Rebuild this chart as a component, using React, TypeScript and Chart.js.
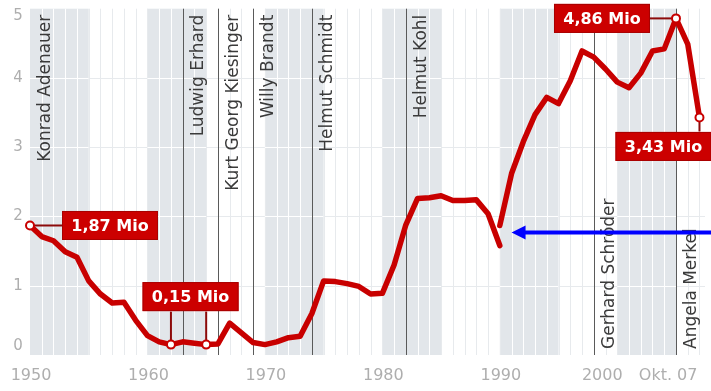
import { useEffect, useRef } from "react";
import { Chart, registerables } from "chart.js";

Chart.register(...registerables);

// Arbeitslose in Deutschland (Mio), Jahresdurchschnitte
const westYears = [
  1950, 1951, 1952, 1953, 1954, 1955, 1956, 1957, 1958, 1959,
  1960, 1961, 1962, 1963, 1964, 1965, 1966, 1967, 1968, 1969,
  1970, 1971, 1972, 1973, 1974, 1975, 1976, 1977, 1978, 1979,
  1980, 1981, 1982, 1983, 1984, 1985, 1986, 1987, 1988, 1989, 1990,
];
const westValues = [
  1.87, 1.71, 1.65, 1.49, 1.41, 1.07, 0.88, 0.75, 0.76, 0.5,
  0.28, 0.19, 0.15, 0.19, 0.17, 0.15, 0.16, 0.46, 0.32, 0.18,
  0.15, 0.19, 0.25, 0.27, 0.6, 1.07, 1.06, 1.03, 0.99, 0.88,
  0.89, 1.3, 1.88, 2.26, 2.27, 2.3, 2.23, 2.23, 2.24, 2.04, 1.58,
];
const unifiedYears = [
  1990, 1991, 1992, 1993, 1994, 1995, 1996, 1997, 1998, 1999,
  2000, 2001, 2002, 2003, 2004, 2005, 2006, 2007,
];
const unifiedValues = [
  1.87, 2.62, 3.08, 3.47, 3.72, 3.63, 3.96, 4.39, 4.3, 4.13,
  3.94, 3.86, 4.07, 4.39, 4.42, 4.86, 4.49, 3.43,
];

// Marked points (indices into the series above)
const westMarkers = [0, 12, 15];
const unifiedMarkers = [15, 17];

// Kanzler and the year their term starts
const chancellors = [
  "Konrad Adenauer", "Ludwig Erhard", "Kurt Georg Kiesinger", "Willy Brandt",
  "Helmut Schmidt", "Helmut Kohl", "Gerhard Schröder", "Angela Merkel",
];
const chancellorStart = [1950, 1963, 1966, 1969, 1974, 1982, 1998, 2005];
const chancellorLabelBottom = [false, false, false, false, false, false, true, true];

// Axis ticks
const xTickValues = [1950, 1960, 1970, 1980, 1990, 2000, 2007];
const xTickLabels = ["1950", "1960", "1970", "1980", "1990", "2000", "Okt. 07"];
const yTickValues = [0, 1, 2, 3, 4, 5];

// Callout labels
const calloutTexts = ["1,87 Mio", "0,15 Mio", "4,86 Mio", "3,43 Mio"];

// Hinweis-Pfeil auf den Bruch 1990
const arrowYear = 1991;
const arrowValue = 1.77;

const RED = "#c80000";
const BOX_RED = "#cc0000";
const CONNECTOR = "#8c0a0a";
const BAND = "#e2e6ea";
const GRID_ON_WHITE = "#e7eaed";
const FONT = "'DejaVu Sans', Verdana, sans-serif";

const inBand = (yr: number) => Math.floor((yr - 1950) / 5) % 2 === 0;

const decorations = {
  id: "decorations",
  beforeDraw(chart: any) {
    const { ctx, chartArea: a, scales } = chart;
    const x = scales.x;
    const y = scales.y;
    ctx.save();
    ctx.fillStyle = "#fff";
    ctx.fillRect(0, 0, chart.width, chart.height);

    // 5-year bands
    const edges: number[] = [];
    for (let s = 1950; s < x.max; s += 5) edges.push(s);
    edges.push(x.max);
    for (let i = 0; i < edges.length - 1; i++) {
      if (!inBand(edges[i])) continue;
      const l = x.getPixelForValue(edges[i]);
      const r = x.getPixelForValue(edges[i + 1]);
      ctx.fillStyle = BAND;
      ctx.fillRect(l, a.top, r - l, a.bottom - a.top);
    }

    // yearly vertical lines
    ctx.lineWidth = 1;
    for (let yr = 1951; yr < x.max; yr++) {
      const px = Math.round(x.getPixelForValue(yr)) + 0.5;
      ctx.strokeStyle = yr % 5 !== 0 && inBand(yr) ? "#ffffff" : GRID_ON_WHITE;
      ctx.beginPath();
      ctx.moveTo(px, a.top);
      ctx.lineTo(px, a.bottom);
      ctx.stroke();
    }

    // horizontal lines
    for (const v of [1, 2, 3, 4]) {
      const py = Math.round(y.getPixelForValue(v)) + 0.5;
      for (let i = 0; i < edges.length - 1; i++) {
        ctx.strokeStyle = inBand(edges[i]) ? "#ffffff" : GRID_ON_WHITE;
        ctx.beginPath();
        ctx.moveTo(x.getPixelForValue(edges[i]), py);
        ctx.lineTo(x.getPixelForValue(edges[i + 1]), py);
        ctx.stroke();
      }
    }

    // chancellor lines and names
    ctx.font = `17px ${FONT}`;
    ctx.fillStyle = "#3a3a3a";
    chancellors.forEach((name, i) => {
      const px = Math.round(x.getPixelForValue(chancellorStart[i])) + 0.5;
      if (chancellorStart[i] > x.min) {
        ctx.strokeStyle = "#5a5a5a";
        ctx.beginPath();
        ctx.moveTo(px, a.top);
        ctx.lineTo(px, a.bottom);
        ctx.stroke();
      }
      ctx.save();
      if (chancellorLabelBottom[i]) {
        ctx.translate(px + 19.5, a.bottom - 6);
        ctx.rotate(-Math.PI / 2);
        ctx.textAlign = "left";
      } else {
        ctx.translate(px + 19.5, a.top + 6);
        ctx.rotate(-Math.PI / 2);
        ctx.textAlign = "right";
      }
      ctx.textBaseline = "alphabetic";
      ctx.fillText(name, 0, 0);
      ctx.restore();
    });

    // y tick labels
    ctx.font = `15px ${FONT}`;
    ctx.fillStyle = "#aeaeae";
    ctx.textAlign = "center";
    ctx.textBaseline = "middle";
    yTickValues.forEach((v) => {
      let py = y.getPixelForValue(v);
      if (v === y.max) py += 7;
      if (v === y.min) py -= 9;
      ctx.fillText(String(v), 18, py);
    });

    // x tick labels
    ctx.font = `16px ${FONT}`;
    xTickValues.forEach((v, i) => {
      const px = x.getPixelForValue(v);
      if (i === xTickValues.length - 1) {
        ctx.textAlign = "right";
        ctx.fillText(xTickLabels[i], px - 2, a.bottom + 21);
      } else if (i === xTickValues.length - 2) {
        ctx.textAlign = "center";
        ctx.fillText(xTickLabels[i], px - 15, a.bottom + 21);
      } else {
        ctx.textAlign = "center";
        ctx.fillText(xTickLabels[i], px + 1, a.bottom + 21);
      }
    });
    ctx.restore();
  },
  beforeDatasetsDraw(chart: any) {
    const { ctx } = chart;
    const w = chart.getDatasetMeta(0).data;
    const u = chart.getDatasetMeta(1).data;
    ctx.save();
    ctx.strokeStyle = CONNECTOR;
    ctx.lineWidth = 2;
    const seg = (x1: number, y1: number, x2: number, y2: number) => {
      ctx.beginPath();
      ctx.moveTo(x1, y1);
      ctx.lineTo(x2, y2);
      ctx.stroke();
    };
    const m0 = w[westMarkers[0]];
    seg(m0.x, m0.y, m0.x + 32, m0.y);
    const m1 = w[westMarkers[1]];
    const m2 = w[westMarkers[2]];
    const top1 = Math.min(m1.y, m2.y) - 63;
    seg(m1.x, m1.y, m1.x, top1 + 30);
    seg(m2.x, m2.y, m2.x, top1 + 30);
    const m3 = u[unifiedMarkers[0]];
    seg(m3.x, m3.y, m3.x - 26, m3.y);
    const m4 = u[unifiedMarkers[1]];
    seg(m4.x, m4.y, m4.x, m4.y + 14);
    ctx.restore();
  },
  afterDatasetsDraw(chart: any) {
    const { ctx, scales } = chart;
    const w = chart.getDatasetMeta(0).data;
    const u = chart.getDatasetMeta(1).data;
    const box = (text: string, cx: number, cy: number) => {
      const bw = 96;
      const bh = 29;
      ctx.fillStyle = BOX_RED;
      ctx.fillRect(cx - bw / 2, cy - bh / 2, bw, bh);
      ctx.strokeStyle = "#a80000";
      ctx.lineWidth = 1;
      ctx.strokeRect(cx - bw / 2 + 0.5, cy - bh / 2 + 0.5, bw - 1, bh - 1);
      ctx.fillStyle = "#ffffff";
      ctx.font = `bold 16px ${FONT}`;
      ctx.textAlign = "center";
      ctx.textBaseline = "middle";
      ctx.fillText(text, cx, cy + 1);
    };
    ctx.save();
    const m0 = w[westMarkers[0]];
    box(calloutTexts[0], m0.x + 32 + 48, m0.y);
    const m1 = w[westMarkers[1]];
    const m2 = w[westMarkers[2]];
    const top1 = Math.min(m1.y, m2.y) - 63;
    box(calloutTexts[1], (m1.x + m2.x) / 2 + 2, top1 + 15);
    const m3 = u[unifiedMarkers[0]];
    box(calloutTexts[2], m3.x - 26 - 48, m3.y);
    const m4 = u[unifiedMarkers[1]];
    box(calloutTexts[3], m4.x - 36, m4.y + 14 + 15);

    // blue pointer arrow
    const tipX = scales.x.getPixelForValue(arrowYear);
    const ay = scales.y.getPixelForValue(arrowValue);
    ctx.strokeStyle = "#0000ff";
    ctx.fillStyle = "#0000ff";
    ctx.lineWidth = 4;
    ctx.beginPath();
    ctx.moveTo(chart.width, ay);
    ctx.lineTo(tipX + 10, ay);
    ctx.stroke();
    ctx.beginPath();
    ctx.moveTo(tipX, ay);
    ctx.lineTo(tipX + 14, ay - 7);
    ctx.lineTo(tipX + 14, ay + 7);
    ctx.closePath();
    ctx.fill();
    ctx.restore();
  },
};

const markerRadius = (idx: number[]) => (c: any) => (idx.includes(c.dataIndex) ? 4 : 0);

export default function App() {
  const ref = useRef<HTMLCanvasElement>(null);
  useEffect(() => {
    const lineStyle = {
      borderColor: RED,
      borderWidth: 5.5,
      borderJoinStyle: "round" as const,
      borderCapStyle: "round" as const,
      tension: 0,
      fill: false,
      clip: false as const,
      pointBackgroundColor: "#ffffff",
      pointBorderColor: RED,
      pointBorderWidth: 2,
    };
    const chart = new Chart(ref.current!, {
      type: "line",
      data: {
        datasets: [
          {
            label: "West",
            data: westYears.map((yr, i) => ({ x: yr, y: westValues[i] })),
            ...lineStyle,
            pointRadius: markerRadius(westMarkers),
          },
          {
            label: "Gesamt",
            data: unifiedYears.map((yr, i) => ({ x: yr, y: unifiedValues[i] })),
            ...lineStyle,
            pointRadius: markerRadius(unifiedMarkers),
          },
        ],
      },
      options: {
        responsive: false,
        devicePixelRatio: 1,
        animation: false,
        layout: { padding: { left: 30, top: 8.7, right: 0, bottom: 36 } },
        plugins: { legend: { display: false }, tooltip: { enabled: false } },
        scales: {
          x: { type: "linear", min: 1950, max: 2007.47, display: false },
          y: { type: "linear", min: 0, max: 5, display: false },
        },
      },
      plugins: [decorations],
    });
    return () => chart.destroy();
  }, []);
  return (
    <div style={{ position: "fixed", left: 0, top: 0, width: 711, height: 391, background: "#fff" }}>
      <canvas ref={ref} width={711} height={391} style={{ display: "block" }} />
    </div>
  );
}
